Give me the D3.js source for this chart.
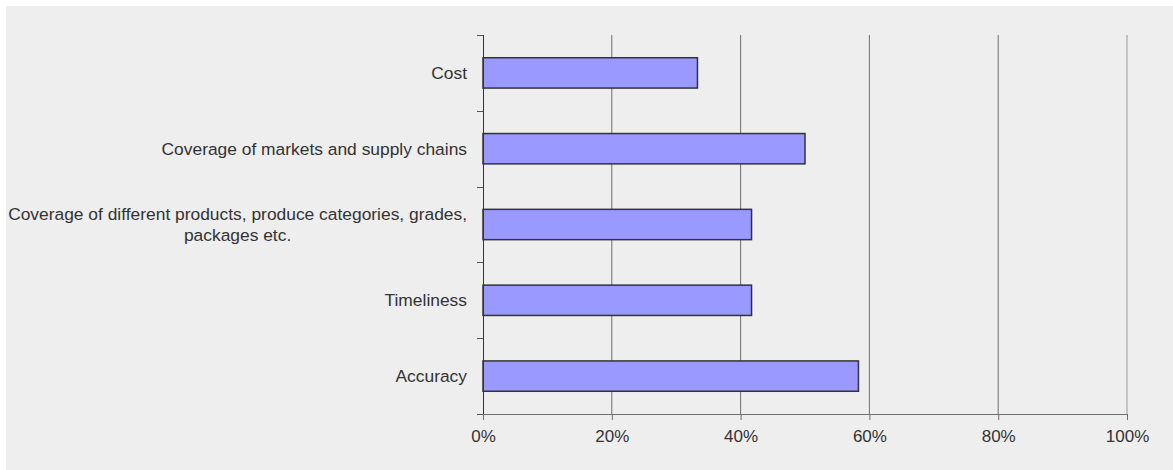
<!DOCTYPE html>
<html>
<head>
<meta charset="utf-8">
<script src="https://cdn.jsdelivr.net/npm/d3@7"></script>
<style>
  html, body { margin: 0; padding: 0; background: #ffffff; }
  svg { display: block; }
</style>
</head>
<body>
<svg id="chart" width="1173" height="470"></svg>
<script>
// Survey categories, top to bottom, and the share of respondents for each (%)
const categories = [
  "Cost",
  "Coverage of markets and supply chains",
  "Coverage of different products, produce categories, grades,\npackages etc.",
  "Timeliness",
  "Accuracy"
];
const values = [33.3, 50.0, 41.7, 41.7, 58.3];
const xTicks = [0, 20, 40, 60, 80, 100];

const W = 1173, H = 470;
const margin = { top: 35, right: 46, bottom: 56, left: 483 };
const innerW = W - margin.left - margin.right;
const innerH = H - margin.top - margin.bottom;
const font = "'Liberation Sans', Arial, sans-serif";

const svg = d3.select("#chart");

// Panel background
svg.append("rect")
  .attr("x", 6).attr("y", 6)
  .attr("width", W - 6).attr("height", H - 6)
  .attr("fill", "#eeeeee");

const g = svg.append("g").attr("transform", `translate(${margin.left},${margin.top})`);

const x = d3.scaleLinear().domain([0, 100]).range([0, innerW]);
const y = d3.scaleBand().domain(categories).range([0, innerH]).paddingInner(0.6).paddingOuter(0.3);

// Vertical grid lines
g.selectAll("line.grid")
  .data(xTicks.filter(t => t > 0))
  .join("line")
  .attr("class", "grid")
  .attr("x1", d => x(d)).attr("x2", d => x(d))
  .attr("y1", 0).attr("y2", innerH)
  .attr("stroke", d => d === 100 ? "#9a9a9a" : "#6e6e6e")
  .attr("stroke-width", 1);

// Bars
g.selectAll("rect.bar")
  .data(categories)
  .join("rect")
  .attr("class", "bar")
  .attr("x", x(0))
  .attr("y", d => y(d))
  .attr("width", (d, i) => x(values[i]) - x(0))
  .attr("height", y.bandwidth())
  .attr("fill", "#9999ff")
  .attr("stroke", "#333333")
  .attr("stroke-width", 1.5);

// X axis
const xAxis = g.append("g")
  .attr("transform", `translate(0,${innerH})`)
  .call(d3.axisBottom(x).tickValues(xTicks).tickFormat(d => d + "%").tickSize(6).tickSizeOuter(0));
xAxis.select(".domain").remove();
xAxis.append("line")
  .attr("x1", -6).attr("x2", innerW).attr("y1", 0.5).attr("y2", 0.5)
  .attr("stroke", "#6e6e6e");
xAxis.selectAll(".tick line").attr("stroke", "#6e6e6e");
xAxis.selectAll(".tick text")
  .attr("dy", 0).attr("y", 27.5)
  .attr("fill", "#333333")
  .style("font-family", font).style("font-size", "17px");

// Y axis: line plus boundary ticks between categories
const yg = g.append("g");
yg.append("line")
  .attr("x1", 0.5).attr("x2", 0.5).attr("y1", 0).attr("y2", innerH)
  .attr("stroke", "#333333");
const bounds = d3.range(categories.length + 1).map(i => i * (innerH / categories.length));
yg.selectAll("line.ytick")
  .data(bounds)
  .join("line")
  .attr("class", "ytick")
  .attr("x1", -6).attr("x2", 0)
  .attr("y1", d => Math.round(d) + 0.5).attr("y2", d => Math.round(d) + 0.5)
  .attr("stroke", "#555555");

// Category labels: right-aligned block, lines centred within it
const labelRight = -16;
const lineH = 20.5;
categories.forEach(cat => {
  const lines = cat.split("\n");
  const cy = y(cat) + y.bandwidth() / 2;
  const t = yg.append("text")
    .attr("fill", "#333333")
    .style("font-family", font).style("font-size", "17.4px")
    .attr("text-anchor", "middle");
  const spans = lines.map((ln, i) => t.append("tspan").text(ln)
    .attr("y", cy + (i - (lines.length - 1) / 2) * lineH)
    .attr("dy", "0.35em"));
  const maxW = d3.max(spans, s => s.node().getComputedTextLength());
  spans.forEach(s => s.attr("x", labelRight - maxW / 2));
});
</script>
</body>
</html>
